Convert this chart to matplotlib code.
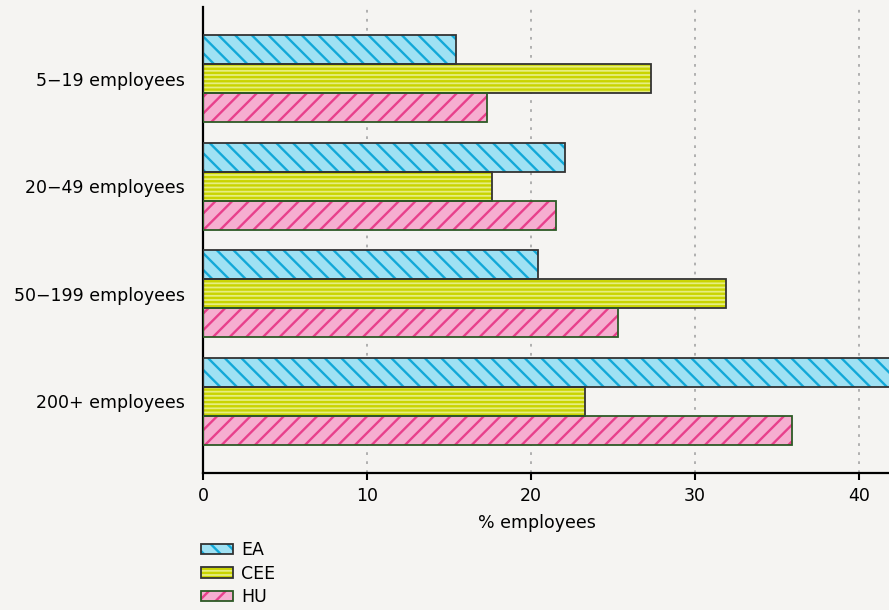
import numpy as np
import matplotlib
matplotlib.use('Agg')
from matplotlib import pyplot as plt

categories = ['5\u221219 employees', '20\u221249 employees', '50\u2212199 employees', '200+ employees']
ea = [15.4, 22.1, 20.4, 43.5]
cee = [27.3, 17.6, 31.9, 23.3]
hu = [17.3, 21.5, 25.3, 35.9]
series_names = ['EA', 'CEE', 'HU']

BG = '#f5f4f2'
plt.rcParams['font.family'] = ['DejaVu Sans']
plt.rcParams['hatch.linewidth'] = 1.7

styles = [
    # fill, hatch colour, hatch, border
    ('#9fe1f3', '#12a8d8', '\\\\', '#333333'),
    ('#e6ee80', '#c9d400', '----', '#333333'),
    ('#f6aed0', '#e8408c', '//', '#2d5a26'),
]

fig = plt.figure(figsize=(8.89, 6.10), dpi=100, facecolor=BG)
ax = fig.add_axes([0.2283, 0.2246, 0.7717, 0.7639])
ax.set_facecolor(BG)

y = np.arange(len(categories))
h = 0.27
handles = []
for k, (vals, (fc, hc, hatch, ec)) in enumerate(zip([ea, cee, hu], styles)):
    pos = y + (k - 1) * h
    # hatch layer (hatch colour follows edgecolor), then the border on top
    b1 = ax.barh(pos, vals, height=h, color=fc, edgecolor=hc, linewidth=0, hatch=hatch, zorder=2)
    b2 = ax.barh(pos, vals, height=h, facecolor='none', edgecolor=ec, linewidth=1.3, zorder=3)
    handles.append((b1, b2))

ax.set_xlim(0, 41.83)
ax.set_ylim(3.665, -0.665)
ax.set_yticks(y)
ax.set_yticklabels(categories, fontsize=12.5)
ax.set_xticks([0, 10, 20, 30, 40])
ax.tick_params(axis='y', length=0, pad=13)
ax.tick_params(axis='x', length=5, width=1.5, labelsize=12.5, pad=5)
ax.xaxis.grid(True, color='#aaaaaa', linestyle=(0, (1.5, 3.5)), linewidth=1.3, zorder=1)
ax.set_axisbelow(True)
for s in ['top', 'right']:
    ax.spines[s].set_visible(False)
for s in ['left', 'bottom']:
    ax.spines[s].set_linewidth(1.6)
    ax.spines[s].set_color('black')
ax.set_xlabel('% employees', fontsize=12.5)
ax.xaxis.set_label_coords(0.487, -0.088)

fig.legend(handles, series_names, loc='upper left', bbox_to_anchor=(0.2265, 0.113),
           frameon=False, fontsize=12.5, handlelength=1.85, handleheight=0.57,
           labelspacing=0.32, handletextpad=0.45, borderaxespad=0, borderpad=0)

fig.savefig('out.png', dpi=100, facecolor=BG)
